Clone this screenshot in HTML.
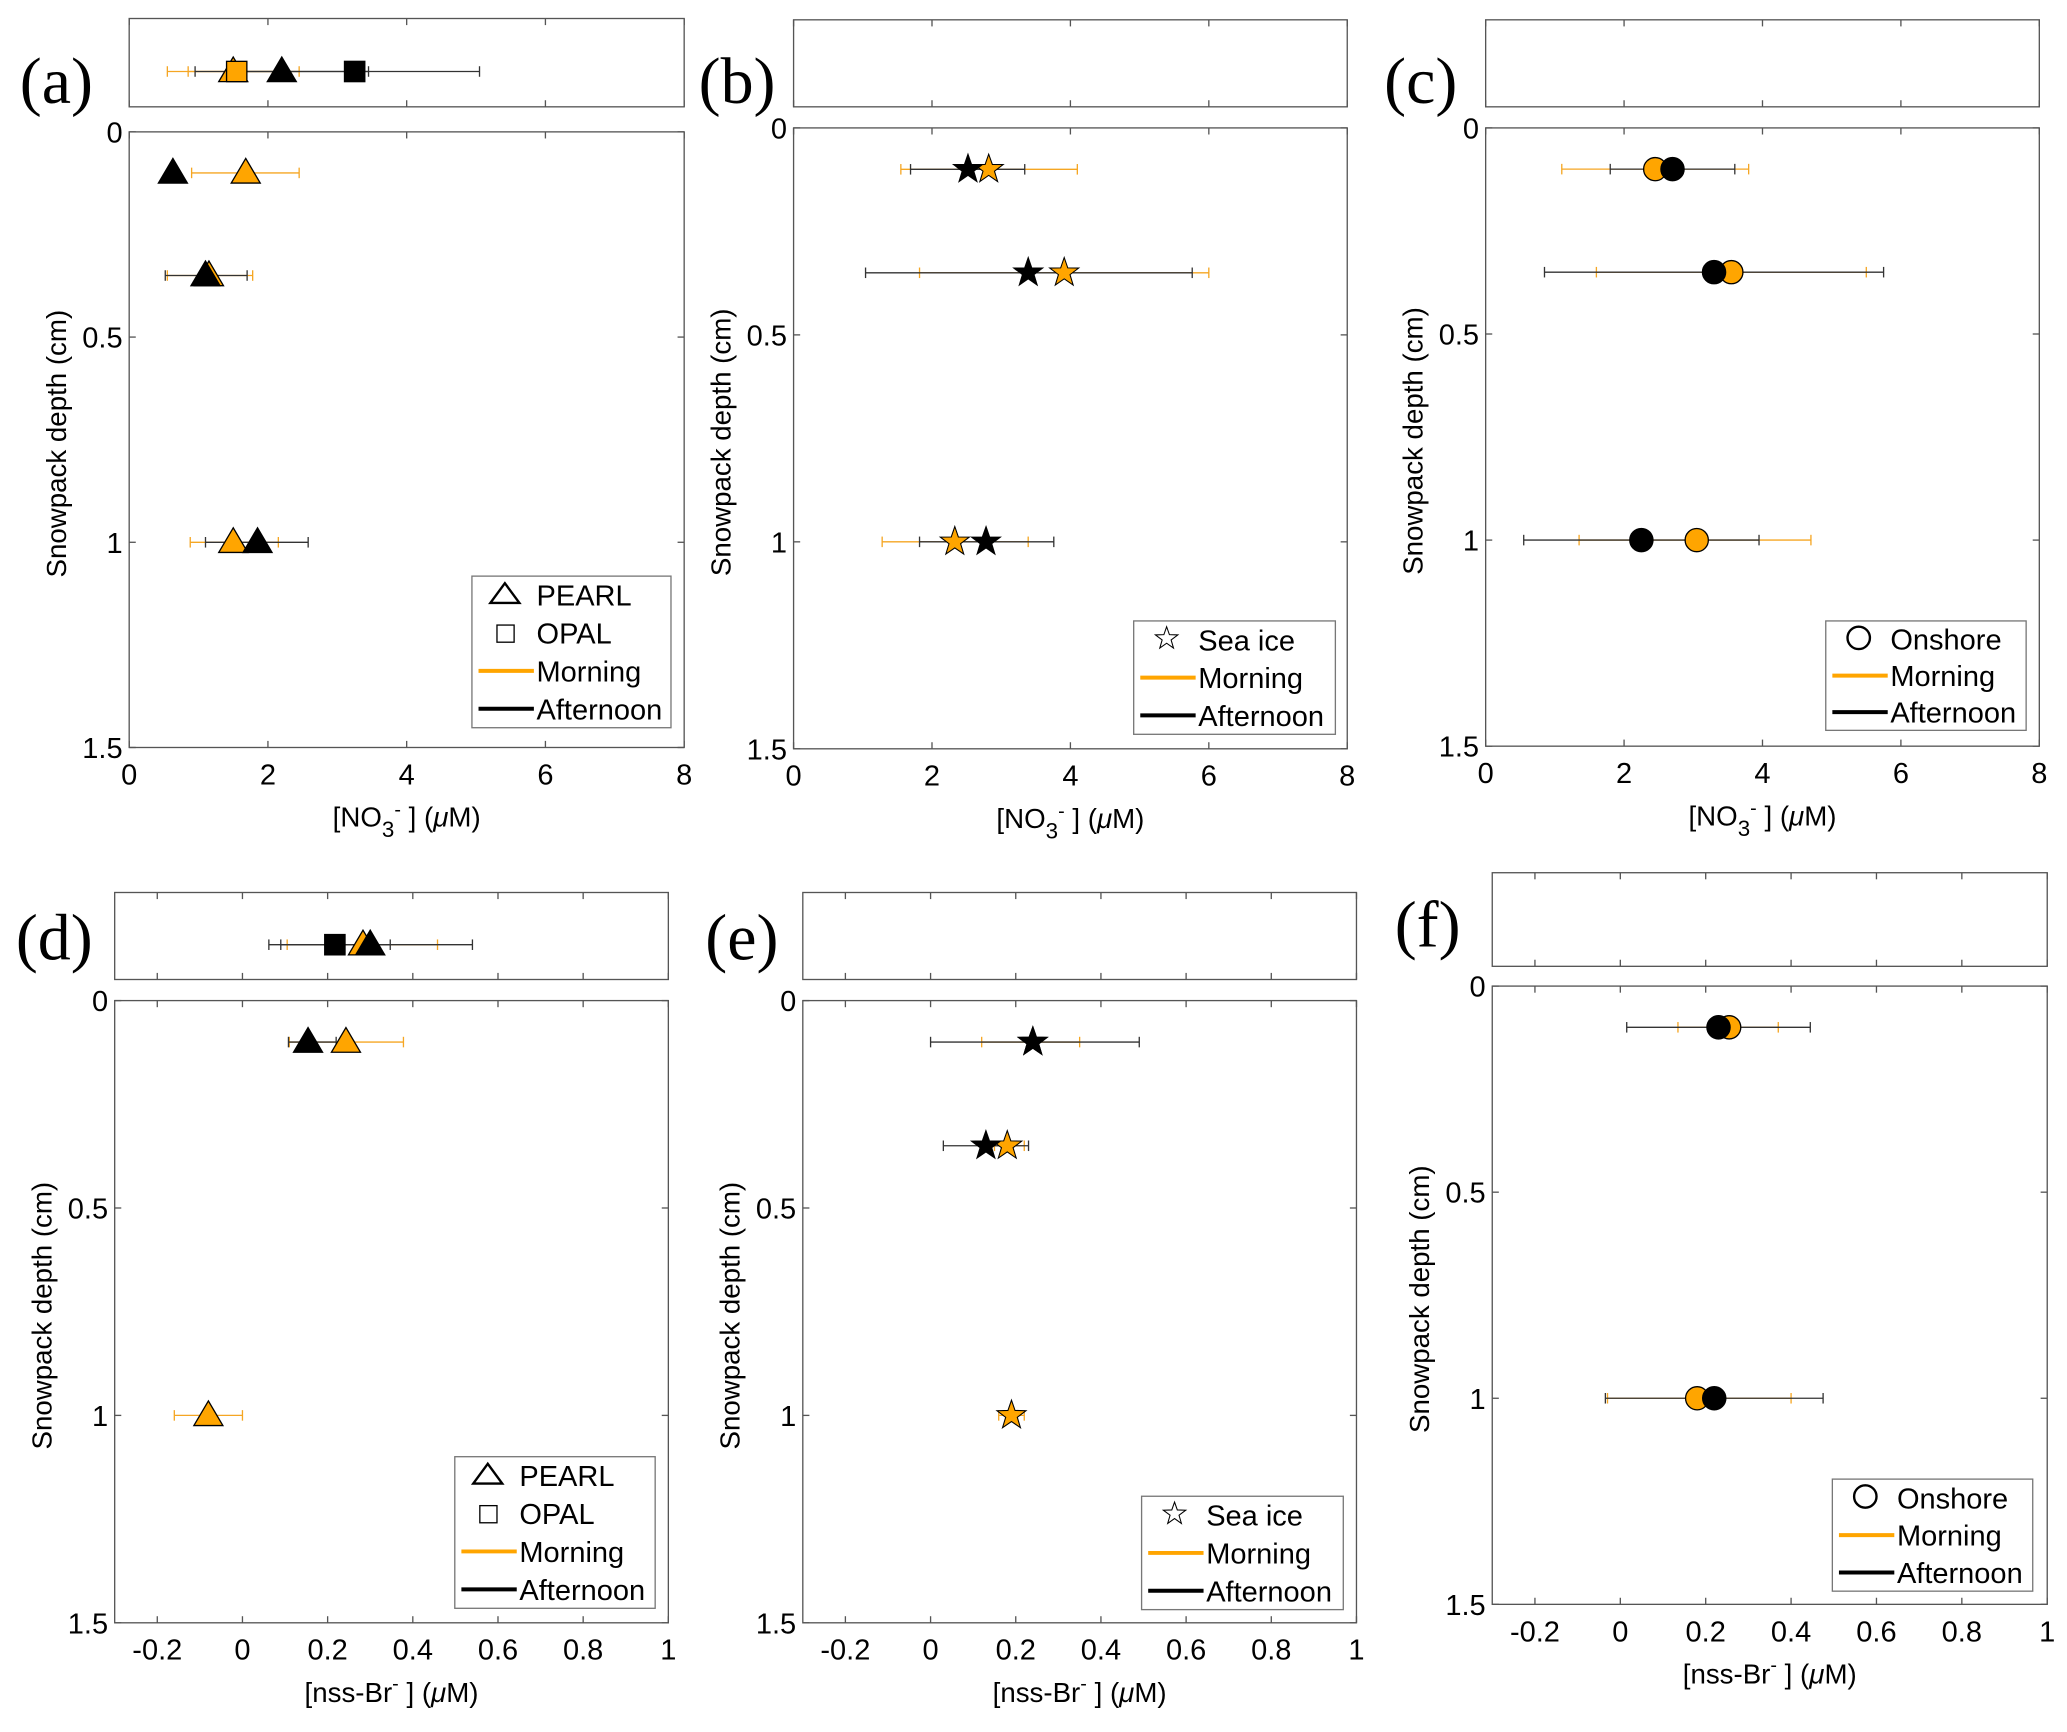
<!DOCTYPE html>
<html><head><meta charset="utf-8"><style>
html,body{margin:0;padding:0;background:#fff}
svg{display:block}
text{font-family:"Liberation Sans",sans-serif;fill:#000}
</style></head><body>
<svg id="fig" width="2067" height="1732" viewBox="0 0 1568 1313.8" xmlns="http://www.w3.org/2000/svg"></svg>
<script>
// ---------- data ----------
const depths = [0.1, 0.35, 1.0];
// panel a: NO3 PEARL
const aMorning = [1.68, 1.15, 1.5];
const aMorningLo = [0.9, 0.55, 0.88];
const aMorningHi = [2.45, 1.78, 2.15];
const aAfternoon = [0.63, 1.1, 1.85];
const aAfternoonLo = [null, 0.52, 1.1];
const aAfternoonHi = [null, 1.7, 2.58];
const aInsetShape = ['tri', 'sq', 'tri', 'sq'];
const aInsetTime = ['m', 'm', 'a', 'a'];
const aInsetVal = [1.5, 1.55, 2.2, 3.25];
const aInsetLo = [0.55, 0.85, 0.95, 1.45];
const aInsetHi = [2.45, 2.25, 3.45, 5.05];
// panel b: NO3 sea ice
const bMorning = [2.82, 3.91, 2.33];
const bMorningLo = [1.55, 1.82, 1.28];
const bMorningHi = [4.1, 6.0, 3.39];
const bAfternoon = [2.52, 3.39, 2.78];
const bAfternoonLo = [1.69, 1.04, 1.82];
const bAfternoonHi = [3.34, 5.76, 3.76];
// panel c: NO3 onshore
const cMorning = [2.45, 3.55, 3.05];
const cMorningLo = [1.1, 1.6, 1.35];
const cMorningHi = [3.8, 5.5, 4.7];
const cAfternoon = [2.7, 3.3, 2.25];
const cAfternoonLo = [1.8, 0.85, 0.55];
const cAfternoonHi = [3.6, 5.75, 3.95];
// panel d: nss-Br PEARL
const dMorning = [0.243, null, -0.08];
const dMorningLo = [0.11, null, -0.16];
const dMorningHi = [0.378, null, 0.0];
const dAfternoon = [0.154, null, null];
const dAfternoonLo = [0.108, null, null];
const dAfternoonHi = [0.22, null, null];
const dInsetShape = ['tri', 'sq', 'tri'];
const dInsetTime = ['m', 'a', 'a'];
const dInsetVal = [0.283, 0.217, 0.30];
const dInsetLo = [0.105, 0.09, 0.062];
const dInsetHi = [0.458, 0.347, 0.54];
// panel e: nss-Br sea ice
const eMorning = [0.24, 0.18, 0.19];
const eMorningLo = [0.12, 0.15, 0.16];
const eMorningHi = [0.35, 0.22, 0.22];
const eAfternoon = [0.24, 0.13, null];
const eAfternoonLo = [0.0, 0.03, null];
const eAfternoonHi = [0.49, 0.23, null];
// panel f: nss-Br onshore
const fMorning = [0.255, null, 0.18];
const fMorningLo = [0.135, null, -0.03];
const fMorningHi = [0.37, null, 0.40];
const fAfternoon = [0.23, null, 0.22];
const fAfternoonLo = [0.015, null, -0.035];
const fAfternoonHi = [0.445, null, 0.475];
const no3Ticks = [0, 2, 4, 6, 8];
const brTicks = [-0.2, 0, 0.2, 0.4, 0.6, 0.8, 1];
const depthTicks = [0, 0.5, 1, 1.5];
const depthTickLabels = ['0', '0.5', '1', '1.5'];

// ---------- drawing ----------
const NS = 'http://www.w3.org/2000/svg';
const svg = document.getElementById('fig');
const ORANGE = '#FFA500', OBAR = '#F5A623', KBAR = '#333';
function el(tag, attrs, parent) {
  const e = document.createElementNS(NS, tag);
  for (const k in attrs) e.setAttribute(k, attrs[k]);
  (parent || svg).appendChild(e);
  return e;
}
function marker(g, shape, x, y, fill, size) {
  let m;
  const s = size || 1.1;
  if (shape === 'tri') {
    const h = 10 * s;
    m = el('polygon', {points: `${x},${y - h} ${x - 10 * s},${y + 7 * s} ${x + 10 * s},${y + 7 * s}`, fill: fill, stroke: '#000', 'stroke-width': 1}, g);
  } else if (shape === 'sq') {
    m = el('rect', {x: x - 7 * s, y: y - 7 * s, width: 14 * s, height: 14 * s, fill: fill, stroke: '#000', 'stroke-width': 1}, g);
  } else if (shape === 'circ') {
    m = el('circle', {cx: x, cy: y, r: 8 * s, fill: fill, stroke: '#000', 'stroke-width': 1}, g);
  } else {
    const pts = [];
    for (let i = 0; i < 10; i++) {
      const r = (i % 2 ? 4.2 : 10.5) * s, a = -Math.PI / 2 + i * Math.PI / 5;
      pts.push((x + r * Math.cos(a)).toFixed(1) + ',' + (y + r * Math.sin(a)).toFixed(1));
    }
    m = el('polygon', {points: pts.join(' '), fill: fill, stroke: '#000', 'stroke-width': 0.8}, g);
  }
  return m;
}
function errbar(g, x1, x2, y, col) {
  el('line', {x1: x1, x2: x2, y1: y, y2: y, stroke: col, 'stroke-width': 1}, g);
  el('line', {x1: x1, x2: x1, y1: y - 4, y2: y + 4, stroke: col, 'stroke-width': 1}, g);
  el('line', {x1: x2, x2: x2, y1: y - 4, y2: y + 4, stroke: col, 'stroke-width': 1}, g);
}
function box(g, x1, y1, x2, y2, xs, ticks, ys, yticks) {
  el('rect', {x: x1, y: y1, width: x2 - x1, height: y2 - y1, fill: '#fff', stroke: '#555', 'stroke-width': 1}, g);
  ticks.forEach(t => {
    const x = xs(t);
    el('line', {x1: x, x2: x, y1: y1, y2: y1 + 5, stroke: '#555'}, g);
    el('line', {x1: x, x2: x, y1: y2, y2: y2 - 5, stroke: '#555'}, g);
  });
  if (yticks) yticks.forEach(t => {
    const y = ys(t);
    el('line', {x1: x1, x2: x1 + 5, y1: y, y2: y, stroke: '#555'}, g);
    el('line', {x1: x2, x2: x2 - 5, y1: y, y2: y, stroke: '#555'}, g);
  });
}

const panels = [
  {id: 'a', lx: 15, ly: 78, inset: [98, 14, 519, 81], main: [98, 100, 519, 567], xmin: 0, xmax: 8, ticks: no3Ticks, shape: 'tri',
   m: [aMorning, aMorningLo, aMorningHi], a: [aAfternoon, aAfternoonLo, aAfternoonHi],
   ins: [aInsetShape, aInsetTime, aInsetVal, aInsetLo, aInsetHi], leg: [358, 437, 509, 552], legItems: ['tri:PEARL', 'sq:OPAL'], xl: 'no3'},
  {id: 'b', lx: 530, ly: 78, inset: [602, 15, 1022, 81], main: [602, 97, 1022, 568], xmin: 0, xmax: 8, ticks: no3Ticks, shape: 'star',
   m: [bMorning, bMorningLo, bMorningHi], a: [bAfternoon, bAfternoonLo, bAfternoonHi], leg: [860, 471, 1013, 557], legItems: ['star:Sea ice'], xl: 'no3'},
  {id: 'c', lx: 1050, ly: 78, inset: [1127, 15, 1547, 81], main: [1127, 97, 1547, 566], xmin: 0, xmax: 8, ticks: no3Ticks, shape: 'circ',
   m: [cMorning, cMorningLo, cMorningHi], a: [cAfternoon, cAfternoonLo, cAfternoonHi], leg: [1385, 471, 1537, 554], legItems: ['circ:Onshore'], xl: 'no3'},
  {id: 'd', lx: 12, ly: 728, inset: [87, 677, 507, 743], main: [87, 759, 507, 1231], xmin: -0.3, xmax: 1, ticks: brTicks, shape: 'tri',
   m: [dMorning, dMorningLo, dMorningHi], a: [dAfternoon, dAfternoonLo, dAfternoonHi],
   ins: [dInsetShape, dInsetTime, dInsetVal, dInsetLo, dInsetHi], leg: [345, 1105, 497, 1220], legItems: ['tri:PEARL', 'sq:OPAL'], xl: 'br'},
  {id: 'e', lx: 535, ly: 728, inset: [609, 677, 1029, 743], main: [609, 759, 1029, 1231], xmin: -0.3, xmax: 1, ticks: brTicks, shape: 'star',
   m: [eMorning, eMorningLo, eMorningHi], a: [eAfternoon, eAfternoonLo, eAfternoonHi], leg: [866, 1135, 1019, 1221], legItems: ['star:Sea ice'], xl: 'br'},
  {id: 'f', lx: 1058, ly: 718, inset: [1132, 662, 1553, 733], main: [1132, 748, 1553, 1217], xmin: -0.3, xmax: 1, ticks: brTicks, shape: 'circ',
   m: [fMorning, fMorningLo, fMorningHi], a: [fAfternoon, fAfternoonLo, fAfternoonHi], leg: [1390, 1122, 1542, 1207], legItems: ['circ:Onshore'], xl: 'br'}
];

panels.forEach(p => {
  const g = el('g', {});
  
  
  const [mx1, my1, mx2, my2] = p.main;
  const xs = v => mx1 + (v - p.xmin) / (p.xmax - p.xmin) * (mx2 - mx1);
  const ys = v => my1 + v / 1.5 * (my2 - my1);
  const lab = el('text', {x: p.lx, y: p.ly, 'font-size': 50, style: 'font-family:"Liberation Serif",serif'}, g);
  lab.textContent = '(' + p.id + ')';
  
  
  const [ix1, iy1, ix2, iy2] = p.inset;
  const ig = el('g', {}, g);
  
  
  box(ig, ix1, iy1, ix2, iy2, xs, p.ticks);
  if (p.ins) {
    const [shp, tm, val, lo, hi] = p.ins;
    const iy = iy1 + 0.6 * (iy2 - iy1);
    val.forEach((v, i) => errbar(ig, xs(lo[i]), xs(hi[i]), iy, tm[i] === 'm' ? OBAR : KBAR));
    val.forEach((v, i) => {
      const mk = marker(ig, shp[i], xs(v), iy, tm[i] === 'm' ? ORANGE : '#000');
      
      
    });
  }
  const mg = el('g', {}, g);
  
  
  box(mg, mx1, my1, mx2, my2, xs, p.ticks, ys, depthTicks);
  p.ticks.forEach(t => {
    const tx = el('text', {x: xs(t), y: my2 + 28, 'font-size': 22, 'text-anchor': 'middle'}, mg);
    tx.textContent = String(t);
    
    
  });
  depthTicks.forEach((t, i) => {
    const ty = el('text', {x: mx1 - 5, y: ys(t) + 8, 'font-size': 22, 'text-anchor': 'end'}, mg);
    ty.textContent = depthTickLabels[i];
    
    
  });
  const yt = el('text', {x: 0, y: 0, 'font-size': 21, 'text-anchor': 'middle', transform: `translate(${mx1 - 48},${(my1 + my2) / 2 + 3}) rotate(-90)`}, mg);
  yt.textContent = 'Snowpack depth (cm)';
  
  
  const xt = el('text', {x: (mx1 + mx2) / 2, y: my2 + 60, 'font-size': 21, 'text-anchor': 'middle'}, mg);
  if (p.xl === 'no3') xt.innerHTML = '[NO<tspan dy="8" font-size="17">3</tspan><tspan dy="-16" font-size="15">-</tspan><tspan dy="8"> ] (</tspan><tspan font-style="italic">μ</tspan>M)';
  else xt.innerHTML = '[nss-Br<tspan dy="-9" font-size="15">-</tspan><tspan dy="9"> ] (</tspan><tspan font-style="italic">μ</tspan>M)';
  
  
  depths.forEach((d, i) => {
    if (p.m[0][i] != null && p.m[1][i] != null) errbar(mg, xs(p.m[1][i]), xs(p.m[2][i]), ys(d), OBAR);
    if (p.a[0][i] != null && p.a[1][i] != null) errbar(mg, xs(p.a[1][i]), xs(p.a[2][i]), ys(d), KBAR);
  });
  depths.forEach((d, i) => {
    if (p.m[0][i] != null) {
      const mk = marker(mg, p.shape, xs(p.m[0][i]), ys(d), ORANGE);
      
      
    }
    if (p.a[0][i] != null) {
      const mk = marker(mg, p.shape, xs(p.a[0][i]), ys(d), '#000');
      
      
    }
  });
  const [lx1, ly1, lx2, ly2] = p.leg;
  const lg = el('g', {}, g);
  
  
  el('rect', {x: lx1, y: ly1, width: lx2 - lx1, height: ly2 - ly1, fill: '#fff', stroke: '#777', 'stroke-width': 1}, lg);
  const rows = p.legItems.concat(['line:Morning', 'line2:Afternoon']);
  const rh = (ly2 - ly1) / rows.length;
  rows.forEach((r, k) => {
    const [kind, name] = r.split(':');
    const cy = ly1 + rh * (k + 0.5);
    const eg = el('g', {}, lg);
    
    
    if (kind === 'line') el('line', {x1: lx1 + 5, x2: lx1 + 47, y1: cy, y2: cy, stroke: ORANGE, 'stroke-width': 3}, eg);
    else if (kind === 'line2') el('line', {x1: lx1 + 5, x2: lx1 + 47, y1: cy, y2: cy, stroke: '#000', 'stroke-width': 3}, eg);
    else if (kind === 'tri') el('polygon', {points: `${lx1 + 25},${cy - 9} ${lx1 + 14},${cy + 6} ${lx1 + 36},${cy + 6}`, fill: 'none', stroke: '#000', 'stroke-width': 1.8}, eg);
    else if (kind === 'sq') el('rect', {x: lx1 + 19, y: cy - 6, width: 13, height: 13, fill: 'none', stroke: '#000', 'stroke-width': 1}, eg);
    else if (kind === 'circ') el('circle', {cx: lx1 + 25, cy: cy - 1, r: 8.5, fill: 'none', stroke: '#000', 'stroke-width': 1.8}, eg);
    else marker(eg, 'star', lx1 + 25, cy - 1, 'none', 0.85);
    const t = el('text', {x: lx1 + 49, y: cy + 8, 'font-size': 22}, eg);
    t.textContent = name;
  });
});
</script>
</body></html>
